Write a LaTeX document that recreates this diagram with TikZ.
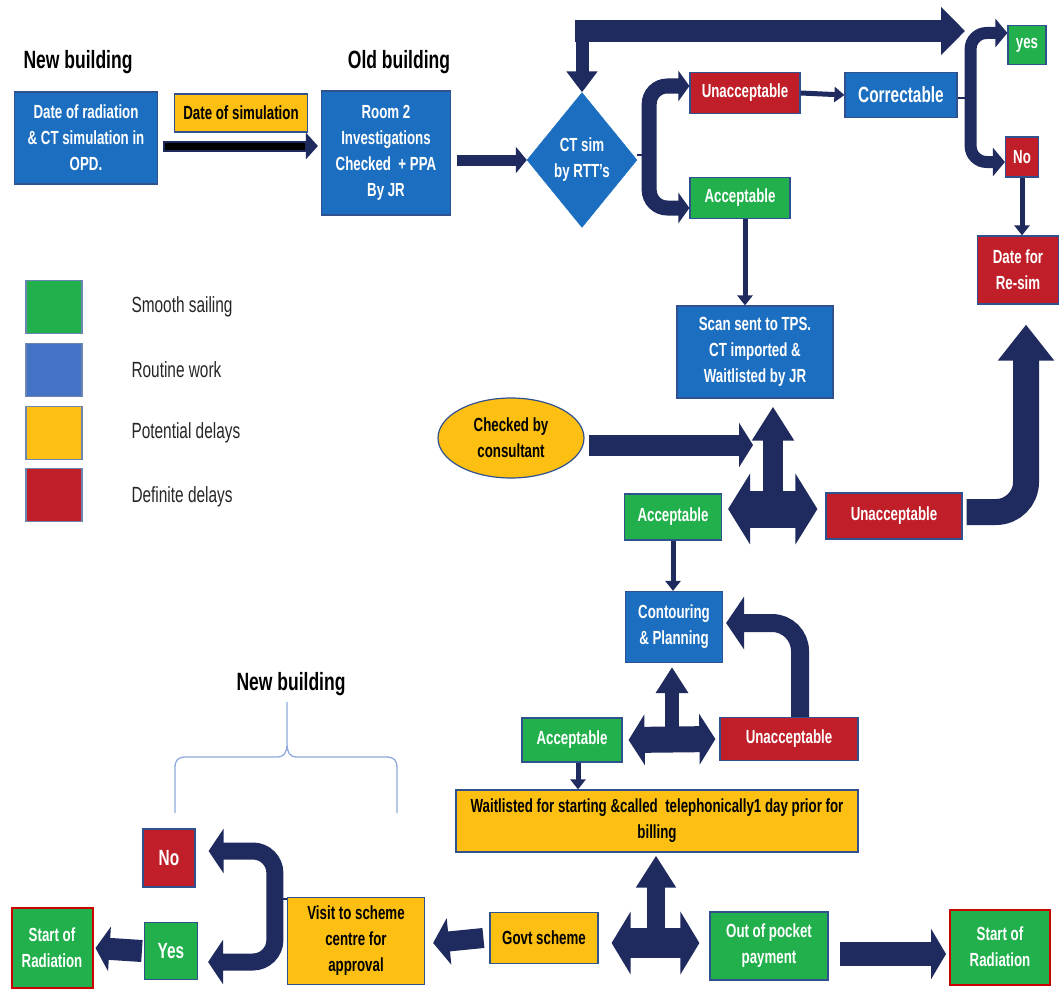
\documentclass[tikz,border=0pt]{standalone}
\usepackage{fontspec}
\setmainfont{Liberation Sans}[FakeStretch=0.7]
\usetikzlibrary{arrows.meta,shapes.geometric}
\definecolor{navy}{RGB}{31,42,94}
\definecolor{cblue}{RGB}{28,111,192}
\definecolor{lblue}{RGB}{68,114,196}
\definecolor{cgreen}{RGB}{33,176,76}
\definecolor{cred}{RGB}{192,30,40}
\definecolor{cyellow}{RGB}{252,191,18}
\definecolor{bord}{RGB}{47,82,143}
\definecolor{bracec}{RGB}{143,170,220}
\definecolor{legtext}{RGB}{38,38,38}
\begin{document}
\begin{tikzpicture}[x=1pt,y=-1pt,
  box/.style={draw=bord, line width=1.2pt, align=center, inner sep=2pt, text=white,
    font=\fontsize{19}{26}\selectfont\bfseries},
  bbox/.style={box, fill=cblue},
  gbox/.style={box, fill=cgreen},
  rbox/.style={box, fill=cred},
  ybox/.style={box, fill=cyellow, text=black},
  startbox/.style={box, fill=cgreen, draw=red!80!black, line width=2pt},
  title/.style={font=\fontsize{25}{30}\selectfont\bfseries, text=black},
  legsq/.style={draw=bord!70, line width=1.5pt, minimum width=56pt, minimum height=53pt, inner sep=0pt},
  legtxt/.style={anchor=west, text=legtext, font=\fontsize{22}{26}\selectfont},
  arr/.style={draw=navy, line join=miter},
  thinarr/.style={arr, line width=5pt, -{Triangle[width=15pt,length=10pt]}},
  stem/.style={draw=navy, line width=1.5pt}
]
\useasboundingbox (0,0) rectangle (1060,990);

% titles
\node[title] (nb1) at (78,62) {New building};
\node[title] (ob) at (399,62) {Old building};
\node[title] (nb2) at (291,684) {New building};

% legend
\node[legsq, fill=cgreen] (l1) at (54,307) {};
\node[legsq, fill=lblue] (l2) at (54,370) {};
\node[legsq, fill=cyellow] (l3) at (54,433) {};
\node[legsq, fill=cred] (l4) at (54,495) {};
\node[legtxt] (t1) at (128,307) {Smooth sailing};
\node[legtxt] (t2) at (128,370) {Routine work};
\node[legtxt] (t3) at (128,433) {Potential delays};
\node[legtxt] (t4) at (128,497) {Definite delays};

% top row
\node[bbox, minimum width=143pt, minimum height=92pt] (b1) at (86,138) {Date of radiation\\\& CT simulation in\\OPD.};
\node[ybox, minimum width=133pt, minimum height=38pt] (dsim) at (241,113) {Date of simulation};
\node[bbox, minimum width=129pt, minimum height=124pt] (b2) at (386,153) {Room 2\\Investigations\\Checked\ \ + PPA\\By JR};
\node[diamond, fill=cblue, draw=cblue, text=white, align=center, inner sep=0pt,
  minimum width=110pt, minimum height=135pt, font=\fontsize{19}{26}\selectfont\bfseries] (dia) at (582,160) {CT sim\\by RTT's};
\node[rbox, minimum width=110pt, minimum height=41pt] (u1) at (745,93) {Unacceptable};
\node[bbox, minimum width=112pt, minimum height=45pt, font=\fontsize{22}{26}\selectfont\bfseries] (corr) at (901,95) {Correctable};
\node[gbox, minimum width=38pt, minimum height=39pt] (yes1) at (1027,45) {yes};
\node[rbox, minimum width=33pt, minimum height=40pt] (no1) at (1022,157) {No};
\node[rbox, minimum width=81pt, minimum height=68pt] (resim) at (1018,270) {Date for\\Re-sim};
\node[gbox, minimum width=100pt, minimum height=41pt] (a1) at (740,198) {Acceptable};

% middle
\node[bbox, minimum width=156pt, minimum height=92pt] (scan) at (755,352) {Scan sent to TPS.\\CT imported \&\\Waitlisted by JR};
\node[ellipse, fill=cyellow, draw=bord, line width=1.2pt, text=black, align=center, inner sep=0pt,
  minimum width=146pt, minimum height=80pt, font=\fontsize{19}{26}\selectfont\bfseries] (cons) at (511,438) {Checked by\\consultant};
\node[gbox, minimum width=97pt, minimum height=46pt] (a2) at (673,517) {Acceptable};
\node[rbox, minimum width=136pt, minimum height=46pt] (u2) at (894,516) {Unacceptable};
\node[bbox, minimum width=97pt, minimum height=71pt] (cont) at (674,627) {Contouring\\\& Planning};
\node[gbox, minimum width=100pt, minimum height=44pt] (a3) at (572,740) {Acceptable};
\node[rbox, minimum width=138pt, minimum height=43pt] (u3) at (789,739) {Unacceptable};
\node[ybox, minimum width=402pt, minimum height=62pt] (wait) at (657,821) {Waitlisted for starting \&called\ \ telephonically1 day prior for\\billing};

% bottom
\node[ybox, minimum width=108pt, minimum height=51pt] (govt) at (544,938) {Govt scheme};
\node[gbox, minimum width=118pt, minimum height=68pt] (oop) at (769,946) {Out of pocket\\payment};
\node[startbox, minimum width=100pt, minimum height=75pt] (sr2) at (1000,947) {Start of\\Radiation};
\node[ybox, minimum width=137pt, minimum height=87pt] (visit) at (356,941) {Visit to scheme\\centre for\\approval};
\node[rbox, minimum width=52pt, minimum height=58pt, font=\fontsize{22}{26}\selectfont\bfseries] (no2) at (169,858) {No};
\node[gbox, minimum width=53pt, minimum height=57pt, font=\fontsize{22}{26}\selectfont\bfseries] (yes2) at (171,951) {Yes};
\node[startbox, minimum width=81pt, minimum height=80pt] (sr1) at (52,948) {Start of\\Radiation};

% ---- connectors ----
% b1 -> b2 (black)
\draw[arr, line width=11pt, -{Triangle[width=26pt,length=12pt]}] ([xshift=5pt,yshift=-8pt]b1.east) -- ([xshift=-3pt,yshift=7pt]b2.west);
\draw[black, line width=7pt] ([xshift=7pt,yshift=-8pt]b1.east) -- ([xshift=-16pt,yshift=7pt]b2.west);
% b2 -> diamond
\draw[arr, line width=11pt, -{Triangle[width=26pt,length=11pt]}] ([xshift=6pt]dia.west -| b2.east) -- (dia.west);
% top loop
\coordinate (topv) at (582,20);
\coordinate (toph) at (575,31);
\coordinate (topr) at (965,31);
\draw[arr, line width=22pt, -{Triangle[width=47pt,length=24pt]}] (toph) -- (topr);
\draw[arr, line width=13pt, -{Triangle[width=30pt,length=21pt]}] (topv) -- (dia.north);
% fork from diamond
\coordinate (f1) at ([xshift=12pt,yshift=5pt]dia.east);
\draw[stem] ([yshift=5pt]dia.east) -- (f1);
\draw[arr, line width=15pt, rounded corners=18pt, -{Triangle[width=30pt,length=11pt]}] (f1) |- ([yshift=7pt]u1.west);
\draw[arr, line width=15pt, rounded corners=18pt, -{Triangle[width=30pt,length=11pt]}] (f1) |- ([yshift=-10pt]a1.west);
% u1 -> corr
\draw[thinarr] (u1.east) -- (corr.west);
% fork from correctable
\coordinate (f2) at ([xshift=13pt,yshift=-3pt]corr.east);
\draw[stem] ([yshift=-3pt]corr.east) -- (f2);
\draw[arr, line width=12pt, rounded corners=16pt, -{Triangle[width=28pt,length=12pt]}] (f2) |- ([yshift=12pt]yes1.west);
\draw[arr, line width=12pt, rounded corners=16pt, -{Triangle[width=28pt,length=12pt]}] (f2) |- ([yshift=-5pt]no1.west);
% no1 -> resim
\draw[thinarr] (no1.south) -- (no1.south |- resim.north);
% a1 -> scan
\draw[thinarr] ([xshift=5pt]a1.south) -- ([xshift=5pt]a1.south |- scan.north);
% cross 1
\coordinate (h1) at (773,509);
\draw[arr, line width=20pt, -{Triangle[width=40pt,length=34pt]}] (h1) -- ([yshift=-8pt]h1 |- scan.south);
\draw[arr, line width=37pt, {Triangle[width=70pt,length=22pt]}-{Triangle[width=70pt,length=22pt]}] ([xshift=6pt,yshift=8pt]a2.east) -- ([xshift=-8pt,yshift=7pt]u2.west);
\coordinate (ce) at ([yshift=-7pt]cons.east);
\draw[arr, line width=21pt, -{Triangle[width=44pt,length=14pt]}] ([xshift=4pt]ce) -- ([xshift=-20pt]h1 |- ce);
% u2 -> resim
\draw[arr, line width=26pt, rounded corners=30pt, -{Triangle[width=54pt,length=36pt]}] ([xshift=4pt,yshift=4pt]u2.east) -| ([xshift=8pt,yshift=-20pt]resim.south);
% a2 -> cont
\draw[thinarr] (a2.south) -- (a2.south |- cont.north);
% cross 2
\coordinate (h2) at (672,740);
\draw[arr, line width=14pt, -{Triangle[width=31pt,length=26pt]}] (h2) -- ([yshift=-4pt]h2 |- cont.south);
\draw[arr, line width=26pt, {Triangle[width=50pt,length=16pt]}-{Triangle[width=50pt,length=16pt]}] ([xshift=6pt]a3.east) -- ([xshift=-4pt]u3.west);
% u3 -> cont
\draw[arr, line width=18pt, rounded corners=28pt, -{Triangle[width=52pt,length=18pt]}] ([xshift=11pt]u3.north) |- ([xshift=3pt,yshift=4pt]cont.east);
% a3 -> wait
\draw[thinarr] ([xshift=6pt]a3.south) -- ([xshift=6pt]a3.south |- wait.north);
% cross 3
\coordinate (h3) at (656,943);
\draw[arr, line width=18pt, -{Triangle[width=38pt,length=32pt]}] (h3) -- ([yshift=-3pt]h3 |- wait.south);
\draw[arr, line width=30pt, {Triangle[width=62pt,length=19pt]}-{Triangle[width=62pt,length=19pt]}] ([xshift=13pt,yshift=-5pt]govt.east) -- ([xshift=-10pt,yshift=3pt]oop.west);
% oop -> sr2
\draw[arr, line width=24pt, -{Triangle[width=50pt,length=15pt]}] ([xshift=11pt,yshift=-8pt]oop.east) -- ([xshift=-3pt,yshift=-7pt]sr2.west);
% govt -> visit
\draw[arr, line width=20pt, -{Triangle[width=46pt,length=16pt]}] ([xshift=-6pt]govt.west) -- ([xshift=8pt,yshift=-2pt]visit.east);
% fork from visit
\coordinate (f3) at ([xshift=-12pt,yshift=-2pt]visit.north west);
\draw[stem] ([yshift=-2pt]visit.north west) -- (f3);
\draw[arr, line width=17pt, rounded corners=22pt, -{Triangle[width=44pt,length=15pt]}] (f3) |- ([xshift=13pt,yshift=7pt]no2.east);
\draw[arr, line width=17pt, rounded corners=22pt, -{Triangle[width=44pt,length=15pt]}] (f3) |- ([xshift=10pt,yshift=-11pt]yes2.east);
% yes2 -> sr1
\draw[arr, line width=22pt, -{Triangle[width=44pt,length=14pt]}] ([xshift=-2pt]yes2.west) -- ([xshift=2pt]sr1.east);

% brace
\draw[bracec, line width=1.3pt] (175,813) -- (175,768) .. controls (175,760) and (178,757) .. (186,757) -- (278,757)
  .. controls (284,757) and (287,752) .. (287,744) -- (287,702)
  -- (287,744) .. controls (287,752) and (290,757) .. (296,757) -- (386,757)
  .. controls (394,757) and (397,760) .. (397,768) -- (397,813);
\end{tikzpicture}
\end{document}
